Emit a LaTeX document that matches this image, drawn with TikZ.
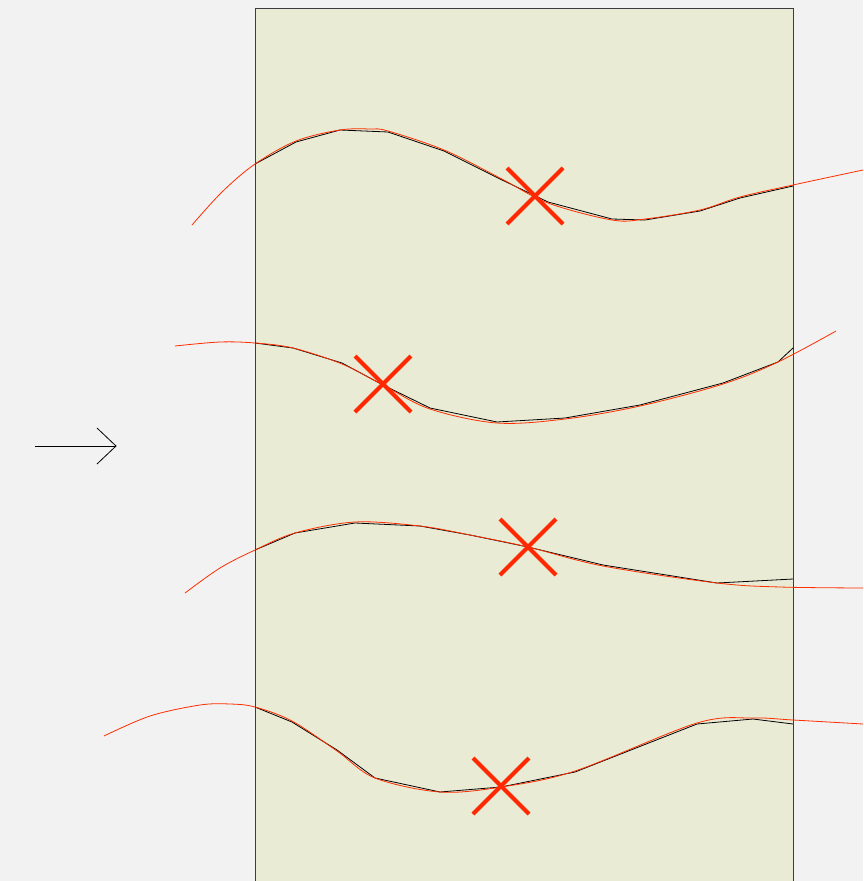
\documentclass[tikz,border=0pt]{standalone}
\begin{document}
\begin{tikzpicture}[x=1pt,y=-1pt,
  blk/.style={draw=black,line width=0.8pt,line join=round},
  redc/.style={draw={rgb,255:red,255;green,45;blue,0},line width=0.8pt},
  xmark/.style={draw={rgb,255:red,255;green,40;blue,0},line width=4pt}]
\definecolor{bgc}{RGB}{242,242,242}
\definecolor{panel}{RGB}{233,235,212}
\fill[bgc] (0,0) rectangle (863,881);
\useasboundingbox (0,0) rectangle (863,881);
\filldraw[fill=panel,draw={rgb,255:red,60;green,60;blue,60},line width=0.9pt] (255,8) rectangle (793,890);
% curve 1
\draw[blk] (255,164)--(296,142)--(340,130)--(388,132)--(444,151)--(500,179)--(548,202)--(612,219)--(645,220)--(700,211)--(740,198)--(793,186);
\draw[redc] plot[smooth,tension=0.55] coordinates {(192,225) (222,192) (255,164) (296,141) (340,130) (370,129) (388,131) (444,150) (500,178) (548,203) (612,220) (645,219) (700,210) (740,197) (793,185) (863,170)};
% curve 2
\draw[blk] (255,343)--(293,348)--(342,363)--(383,385)--(430,408)--(497,422)--(565,418)--(640,405)--(723,383)--(778,362)--(793,348);
\draw[redc] plot[smooth,tension=0.55] coordinates {(175,346) (220,342) (255,343) (293,348) (342,364) (383,385) (430,409) (497,423) (565,419) (640,406) (723,384) (778,362) (836,331)};
% curve 3
\draw[blk] (255,550)--(295,533)--(355,523)--(420,526)--(470,535)--(528,547)--(603,565)--(717,583)--(793,579);
\draw[redc] plot[smooth,tension=0.55] coordinates {(185,593) (220,568) (255,550) (295,533) (355,522) (420,526) (470,535) (528,547) (603,566) (717,583) (780,587) (863,588)};
% curve 4
\draw[blk] (255,707)--(292,722)--(337,750)--(375,778)--(440,792)--(501,787)--(575,772)--(697,724)--(753,719)--(793,724);
\draw[redc] plot[smooth,tension=0.55] coordinates {(104,736) (150,716) (200,705) (230,704) (255,707) (292,721) (337,751) (375,778) (440,792) (501,787) (575,771) (697,723) (753,718) (793,720) (863,724)};
% X marks
\foreach \cx/\cy in {535/196,383/384,528/547,501/786}{
  \draw[xmark] (\cx-28,\cy-28)--(\cx+28,\cy+28);
  \draw[xmark] (\cx-28,\cy+28)--(\cx+28,\cy-28);
}
% arrow
\coordinate (as) at (35,446);
\coordinate (ae) at (116,446);
\draw[black,line width=0.8pt] (as)--(ae);
\draw[black,line width=0.8pt] (97,428)--(ae)--(97,464);
\end{tikzpicture}
\end{document}
